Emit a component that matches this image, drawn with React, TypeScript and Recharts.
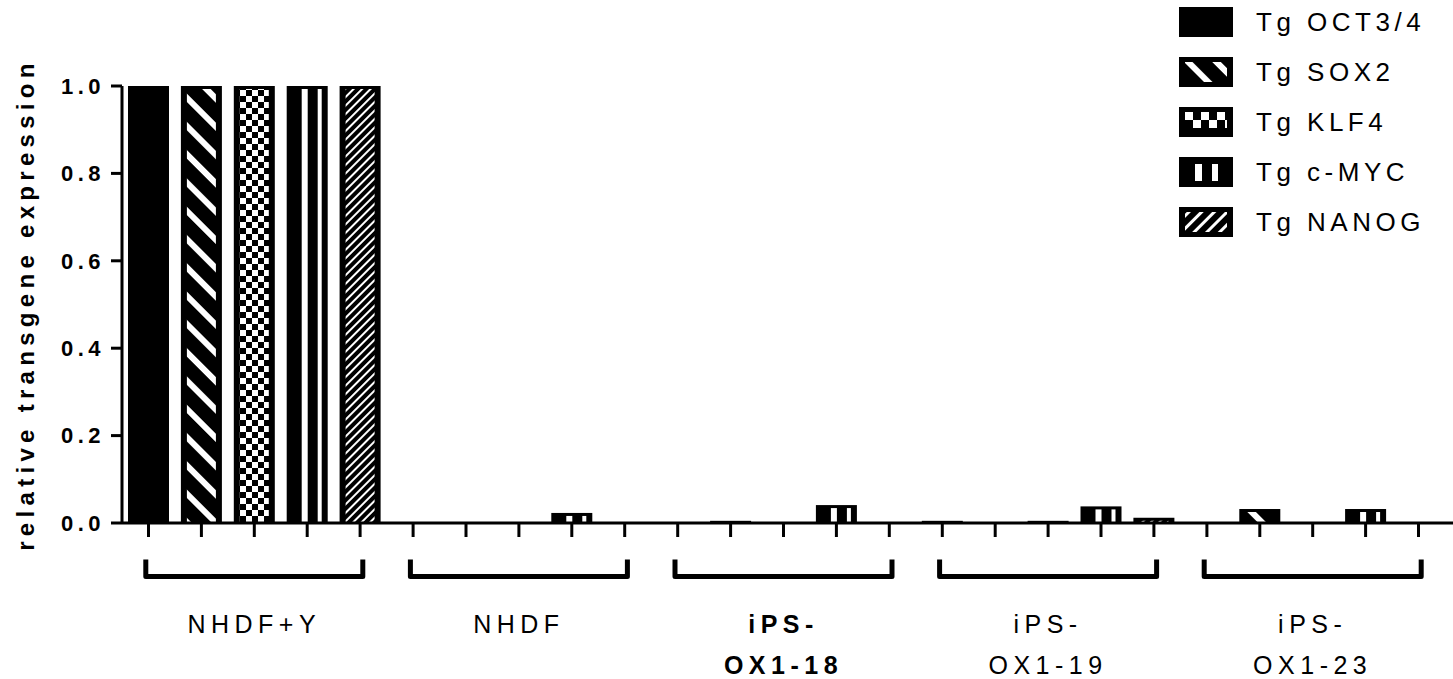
import { BarChart, Bar, XAxis, YAxis, Legend, Label } from "recharts";

const groups = ["NHDF+Y", "NHDF", "iPS-OX1-18", "iPS-OX1-19", "iPS-OX1-23"];

// relative transgene expression per group
const oct34 = [1.0, 0, 0, 0.005, 0];
const sox2 = [1.0, 0, 0.005, 0, 0.032];
const klf4 = [1.0, 0, 0, 0.005, 0];
const cmyc = [1.0, 0.023, 0.041, 0.038, 0.032];
const nanog = [1.0, 0, 0, 0.012, 0];

const yTicks = [0, 0.2, 0.4, 0.6, 0.8, 1.0];

const series = [
  { key: "oct34", name: "Tg OCT3/4", values: oct34, pattern: "solid" },
  { key: "sox2", name: "Tg SOX2", values: sox2, pattern: "sox" },
  { key: "klf4", name: "Tg KLF4", values: klf4, pattern: "checker" },
  { key: "cmyc", name: "Tg c-MYC", values: cmyc, pattern: "vstripe" },
  { key: "nanog", name: "Tg NANOG", values: nanog, pattern: "hatch" },
];

const data = groups.map((group, i) => {
  const row: Record<string, string | number> = { group };
  series.forEach((s) => {
    row[s.key] = s.values[i];
  });
  return row;
});

const FONT = "'Liberation Sans', Arial, Helvetica, sans-serif";

const Patterns = () => (
  <svg width={0} height={0} style={{ position: "absolute" }}>
    <defs>
      <pattern id="pat-sox" width={20} height={20} patternUnits="userSpaceOnUse" patternTransform="rotate(-45)">
        <rect width={20} height={20} fill="#000" />
        <rect x={0} width={6} height={20} fill="#fff" />
      </pattern>
      <pattern id="pat-checker" width={12} height={12} patternUnits="userSpaceOnUse">
        <rect width={12} height={12} fill="#fff" />
        <rect x={0} y={0} width={6} height={6} fill="#000" />
        <rect x={6} y={6} width={6} height={6} fill="#000" />
      </pattern>
      <pattern id="pat-checker-lg" width={16} height={16} patternUnits="userSpaceOnUse" x={6} y={5}>
        <rect width={16} height={16} fill="#000" />
        <rect x={0} y={0} width={8} height={8} fill="#fff" />
        <rect x={8} y={8} width={8} height={8} fill="#fff" />
      </pattern>
      <pattern id="pat-hatch" width={6} height={6} patternUnits="userSpaceOnUse" patternTransform="rotate(45)">
        <rect width={6} height={6} fill="#000" />
        <rect x={0} width={2} height={6} fill="#fff" />
      </pattern>
      <pattern id="pat-hatch-lg" width={9} height={9} patternUnits="userSpaceOnUse" patternTransform="rotate(45)">
        <rect width={9} height={9} fill="#000" />
        <rect x={0} width={3} height={9} fill="#fff" />
      </pattern>
    </defs>
  </svg>
);

// bar body with inset pattern, plus the per-bar tick mark under the axis
const makeShape = (pattern: string) => (props: any) => {
  const { x, y, width, height } = props;
  const h = Number(height) || 0;
  const base = y + h;
  const cx = x + width / 2;
  const tick = (
    <line x1={cx} y1={base + 1} x2={cx} y2={base + 14} stroke="#000" strokeWidth={3} />
  );
  if (h <= 0.3) return <g>{tick}</g>;
  const side = 6;
  const top = 3;
  const innerH = h - top;
  let inner = null;
  if (innerH > 0.5 && pattern !== "solid") {
    if (pattern === "vstripe") {
      inner = (
        <g>
          <rect x={x + 15} y={y + top} width={6} height={innerH} fill="#fff" />
          <rect x={x + 31} y={y + top} width={width - side - 31} height={innerH} fill="#fff" />
        </g>
      );
    } else {
      inner = (
        <rect
          x={x + side}
          y={y + top}
          width={width - 2 * side}
          height={innerH}
          fill={`url(#pat-${pattern})`}
        />
      );
    }
  }
  return (
    <g>
      <rect x={x} y={y} width={width} height={h} fill="#000" />
      {inner}
      {tick}
    </g>
  );
};

const GroupTick = (props: any) => {
  const { x, y, payload } = props;
  const label = String(payload.value);
  const bold = label === "iPS-OX1-18";
  const lines = label.startsWith("iPS-") ? ["iPS-", label.slice(4)] : [label];
  const half = 108.5;
  return (
    <g>
      <path
        d={`M${x - half},${y + 36.5} L${x - half},${y + 53.5} L${x + half},${y + 53.5} L${x + half},${y + 36.5}`}
        fill="none"
        stroke="#000"
        strokeWidth={5}
        strokeLinejoin="round"
      />
      {lines.map((line, i) => (
        <text
          key={i}
          x={x}
          y={y + 110 + i * 41}
          textAnchor="middle"
          fill="#000"
          fontFamily={FONT}
          fontSize={25}
          fontWeight={bold ? 700 : 400}
          letterSpacing={5.5}
        >
          {line}
        </text>
      ))}
    </g>
  );
};

const YTitle = (props: any) => {
  const vb = props.viewBox || { x: 0, y: 86, width: 122, height: 437 };
  const cy = vb.y + vb.height / 2;
  const cx = 34;
  return (
    <text
      x={cx}
      y={cy}
      transform={`rotate(-90 ${cx} ${cy})`}
      textAnchor="middle"
      fill="#000"
      fontFamily={FONT}
      fontSize={24}
      fontWeight={700}
      letterSpacing={5.3}
    >
      relative transgene expression
    </text>
  );
};

const Swatch = ({ pattern }: { pattern: string }) => (
  <svg width={54} height={30} style={{ display: "block" }}>
    <rect width={54} height={30} fill="#000" />
    {pattern === "vstripe" ? (
      <g>
        <rect x={16} y={7} width={7} height={17} fill="#fff" />
        <rect x={33} y={7} width={6} height={17} fill="#fff" />
      </g>
    ) : pattern === "checker" ? (
      <rect x={6} y={5} width={42} height={16} fill="url(#pat-checker-lg)" />
    ) : pattern === "hatch" ? (
      <rect x={6} y={5} width={42} height={20} fill="url(#pat-hatch-lg)" />
    ) : pattern !== "solid" ? (
      <rect x={6} y={5} width={42} height={20} fill={`url(#pat-${pattern})`} />
    ) : null}
  </svg>
);

const renderLegend = () => (
  <div style={{ fontFamily: FONT }}>
    {series.map((s) => (
      <div key={s.key} style={{ display: "flex", alignItems: "center", height: 50 }}>
        <Swatch pattern={s.pattern} />
        <span style={{ marginLeft: 23, fontSize: 26, letterSpacing: 4.5, color: "#000" }}>
          {s.name}
        </span>
      </div>
    ))}
  </div>
);

export default function App() {
  return (
    <div style={{ position: "absolute", left: 0, top: 0, background: "#fff" }}>
      <Patterns />
      <BarChart
        width={1453}
        height={679}
        data={data}
        margin={{ top: 86, right: 0, left: 0, bottom: 0 }}
        barSize={41}
        barGap={11.9}
      >
        <XAxis
          dataKey="group"
          height={156}
          interval={0}
          padding={{ left: 0, right: 8 }}
          axisLine={{ stroke: "#000", strokeWidth: 3 }}
          tickLine={false}
          tickSize={0}
          tickMargin={0}
          tick={<GroupTick />}
        />
        <YAxis
          domain={[0, 1]}
          ticks={yTicks}
          interval={0}
          width={122}
          tickFormatter={(v: number) => v.toFixed(1)}
          axisLine={{ stroke: "#000", strokeWidth: 3 }}
          tickLine={{ stroke: "#000", strokeWidth: 3 }}
          tickSize={11}
          tickMargin={6}
          tick={{ fill: "#000", fontSize: 22, fontWeight: 700, letterSpacing: 4.5, fontFamily: FONT }}
        >
          <Label content={<YTitle />} />
        </YAxis>
        <Legend
          layout="vertical"
          align="center"
          verticalAlign="middle"
          content={renderLegend}
          wrapperStyle={{ position: "absolute", top: -3, left: 1179, width: 274, height: 250 }}
        />
        {series.map((s) => (
          <Bar
            key={s.key}
            dataKey={s.key}
            name={s.name}
            fill="#000"
            isAnimationActive={false}
            shape={makeShape(s.pattern)}
          />
        ))}
      </BarChart>
    </div>
  );
}
